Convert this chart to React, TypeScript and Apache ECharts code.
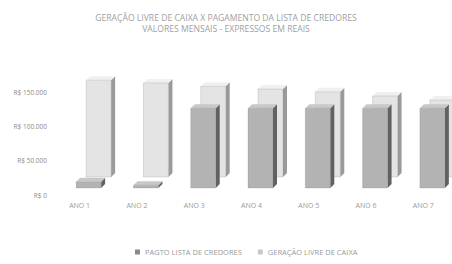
import React, { useEffect, useRef } from "react";
import * as echarts from "echarts";

const categories = ["ANO 1", "ANO 2", "ANO 3", "ANO 4", "ANO 5", "ANO 6", "ANO 7"];
const pagtoLista = [9000, 4000, 116000, 116000, 116000, 116000, 116000];
const geracaoCaixa = [141000, 137000, 132000, 128000, 124000, 118000, 112000];
const seriesNames = ["PAGTO LISTA DE CREDORES", "GERAÇÃO LIVRE DE CAIXA"];

const fmt = (v: number) =>
  v === 0 ? "R$ 0" : "R$ " + String(v).replace(/\B(?=(\d{3})+(?!\d))/g, ".");

function makeRender(dxOff: number, dyOff: number, front: string, side: string, top: string) {
  return (params: any, api: any) => {
    const idx = api.value(0);
    const val = api.value(1);
    const p1 = api.coord([idx, val]);
    const p0 = api.coord([idx, 0]);
    const w = 25;
    const d = 4;
    const x = p1[0] + dxOff - w / 2;
    const yTop = p1[1] + dyOff;
    const yBot = p0[1] + dyOff;
    const h = Math.max(yBot - yTop, 1);
    return {
      type: "group",
      children: [
        {
          type: "polygon",
          shape: { points: [[x + w, yTop], [x + w + d, yTop - d], [x + w + d, yBot - d], [x + w, yBot]] },
          style: { fill: side },
        },
        {
          type: "polygon",
          shape: { points: [[x, yTop], [x + d, yTop - d], [x + w + d, yTop - d], [x + w, yTop]] },
          style: { fill: top },
        },
        {
          type: "rect",
          shape: { x, y: yTop, width: w, height: h },
          style: { fill: front, stroke: "rgba(120,120,120,0.35)", lineWidth: 0.6 },
        },
      ],
    };
  };
}

export default function App() {
  const ref = useRef<HTMLDivElement>(null);
  useEffect(() => {
    if (!ref.current) return;
    const chart = echarts.init(ref.current, null, { renderer: "svg" });
    chart.setOption({
      animation: false,
      backgroundColor: "#ffffff",
      title: {
        text: "GERAÇÃO LIVRE DE CAIXA X PAGAMENTO DA LISTA DE CREDORES\nVALORES MENSAIS - EXPRESSOS EM REAIS",
        left: "center",
        top: 8,
        textStyle: { fontSize: 8.6, fontWeight: "normal", color: "#a0a0a0", lineHeight: 10.5, fontFamily: "Open Sans" },
      },
      legend: {
        data: seriesNames,
        left: 130,
        top: 243,
        icon: "rect",
        itemWidth: 5,
        itemHeight: 5,
        itemGap: 16,
        textStyle: { fontSize: 7.5, color: "#9a9a9a", fontFamily: "Open Sans" },
      },
      grid: { left: 51, right: -5, top: 92, bottom: 69 },
      xAxis: {
        type: "category",
        data: categories,
        axisLine: { show: false },
        axisTick: { show: false },
        axisLabel: { interval: 0, margin: 7, fontSize: 7, color: "#9a9a9a", fontFamily: "Open Sans" },
      },
      yAxis: {
        type: "value",
        min: 0,
        max: 150000,
        interval: 50000,
        splitLine: { show: false },
        axisLabel: { formatter: fmt, fontSize: 6.5, color: "#8a8a8a", margin: 4, fontFamily: "Open Sans" },
      },
      series: [
        {
          name: seriesNames[1],
          type: "custom",
          clip: false,
          itemStyle: { color: "#c8c8c8" },
          renderItem: makeRender(19, -18, "#e4e4e4", "#9a9a9a", "#f0f0f0"),
          data: geracaoCaixa.map((v, i) => [i, v]),
          z: 1,
        },
        {
          name: seriesNames[0],
          type: "custom",
          clip: false,
          itemStyle: { color: "#8a8a8a" },
          renderItem: makeRender(9, -7, "#b3b3b3", "#616161", "#c8c8c8"),
          data: pagtoLista.map((v, i) => [i, v]),
          z: 2,
        },
      ],
    });
    return () => chart.dispose();
  }, []);
  return <div ref={ref} style={{ width: 452, height: 264, position: "absolute", left: 0, top: 0 }} />;
}
